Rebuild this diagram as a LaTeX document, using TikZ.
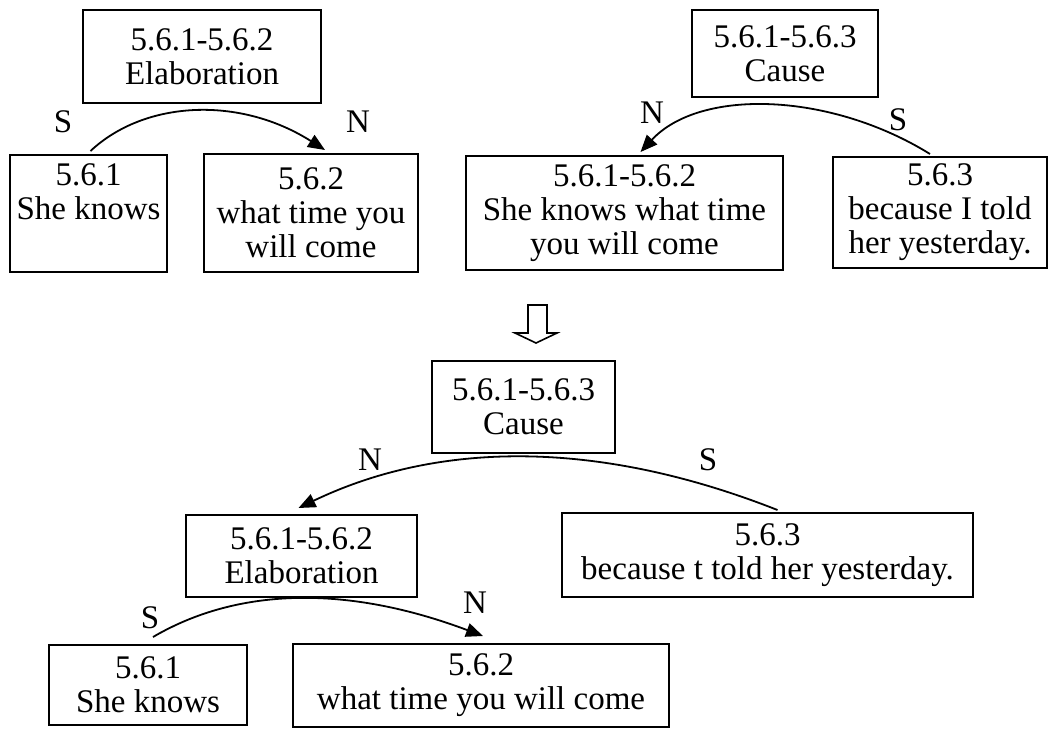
\documentclass[tikz,border=0pt]{standalone}
\usepackage{fontspec}
\setmainfont{Liberation Serif}
\usetikzlibrary{arrows.meta}

\begin{document}
\begin{tikzpicture}[x=1pt,y=-1pt,font=\fontsize{33}{34}\selectfont,span/.style={draw,line width=2pt,align=center,inner sep=0pt},rel/.style={-{Triangle[length=17pt,width=14pt]},line width=1.8pt},nuc/.style={inner sep=0pt}]
\useasboundingbox (0,0) rectangle (1049,728);
% first tree: Elaboration
\node[span,minimum width=238,minimum height=93] (eroot) at (202,56.5) {5.6.1-5.6.2\\Elaboration};
\node[span,minimum width=157,minimum height=117] (e1) at (88.5,213.5) {5.6.1\\She knows\\\strut};
\node[span,minimum width=214,minimum height=118] (e2) at (311,213) {5.6.2\\what time you\\will come};
\draw[rel] ([shift={(2,-3)}]e1.north) .. controls (145,100) and (240,96) .. ([shift={(14,-3)}]e2.north);
\node[nuc] (es) at (63,122) {S};\node[nuc] (en) at (358,122) {N};
% second tree: Cause
\node[span,minimum width=186,minimum height=87] (croot) at (785,53.5) {5.6.1-5.6.3\\Cause};
\node[span,minimum width=317,minimum height=114] (c12) at (624.5,213) {5.6.1-5.6.2\\She knows what time\\you will come};
\node[span,minimum width=214,minimum height=111] (c3) at (940,212.5) {5.6.3\\because I told\\her yesterday.};
\draw[rel] ([shift={(-10,-2)}]c3.north) .. controls (830,92) and (700,88) .. ([shift={(16,-3)}]c12.north);
\node[nuc] (cn) at (652,113) {N};\node[nuc] (cs) at (898,120) {S};
% merge
\draw[line width=1.6pt] (528,305) -- (547,305) -- (547,333) -- (557,333) -- (536,343) -- (515,333) -- (528,333) -- cycle;
% merged tree
\node[span,minimum width=183,minimum height=92] (broot) at (523.5,407) {5.6.1-5.6.3\\Cause};
\node[span,minimum width=231,minimum height=82] (belab) at (301.5,556) {5.6.1-5.6.2\\Elaboration};
\node[span,minimum width=411,minimum height=84] (b3) at (767.5,555) {5.6.3\\because t told her yesterday.};
\node[span,minimum width=198,minimum height=80] (b1) at (148,685) {5.6.1\\She knows};
\node[span,minimum width=376,minimum height=83] (b2) at (481,685.5) {5.6.2\\what time you will come};
\draw[rel] ([shift={(10,-2)}]b3.north) .. controls (600,440) and (440,440) .. ([shift={(-3,-6)}]belab.north);
\draw[rel] ([shift={(5,-7)}]b1.north) .. controls (240,586) and (350,586) .. ([shift={(2,-7)}]b2.north);
\node[nuc] (bn) at (370,460) {N};\node[nuc] (bs) at (708,460) {S};
\node[nuc] (bes) at (150,618) {S};\node[nuc] (ben) at (475,603) {N};
\end{tikzpicture}
\end{document}
